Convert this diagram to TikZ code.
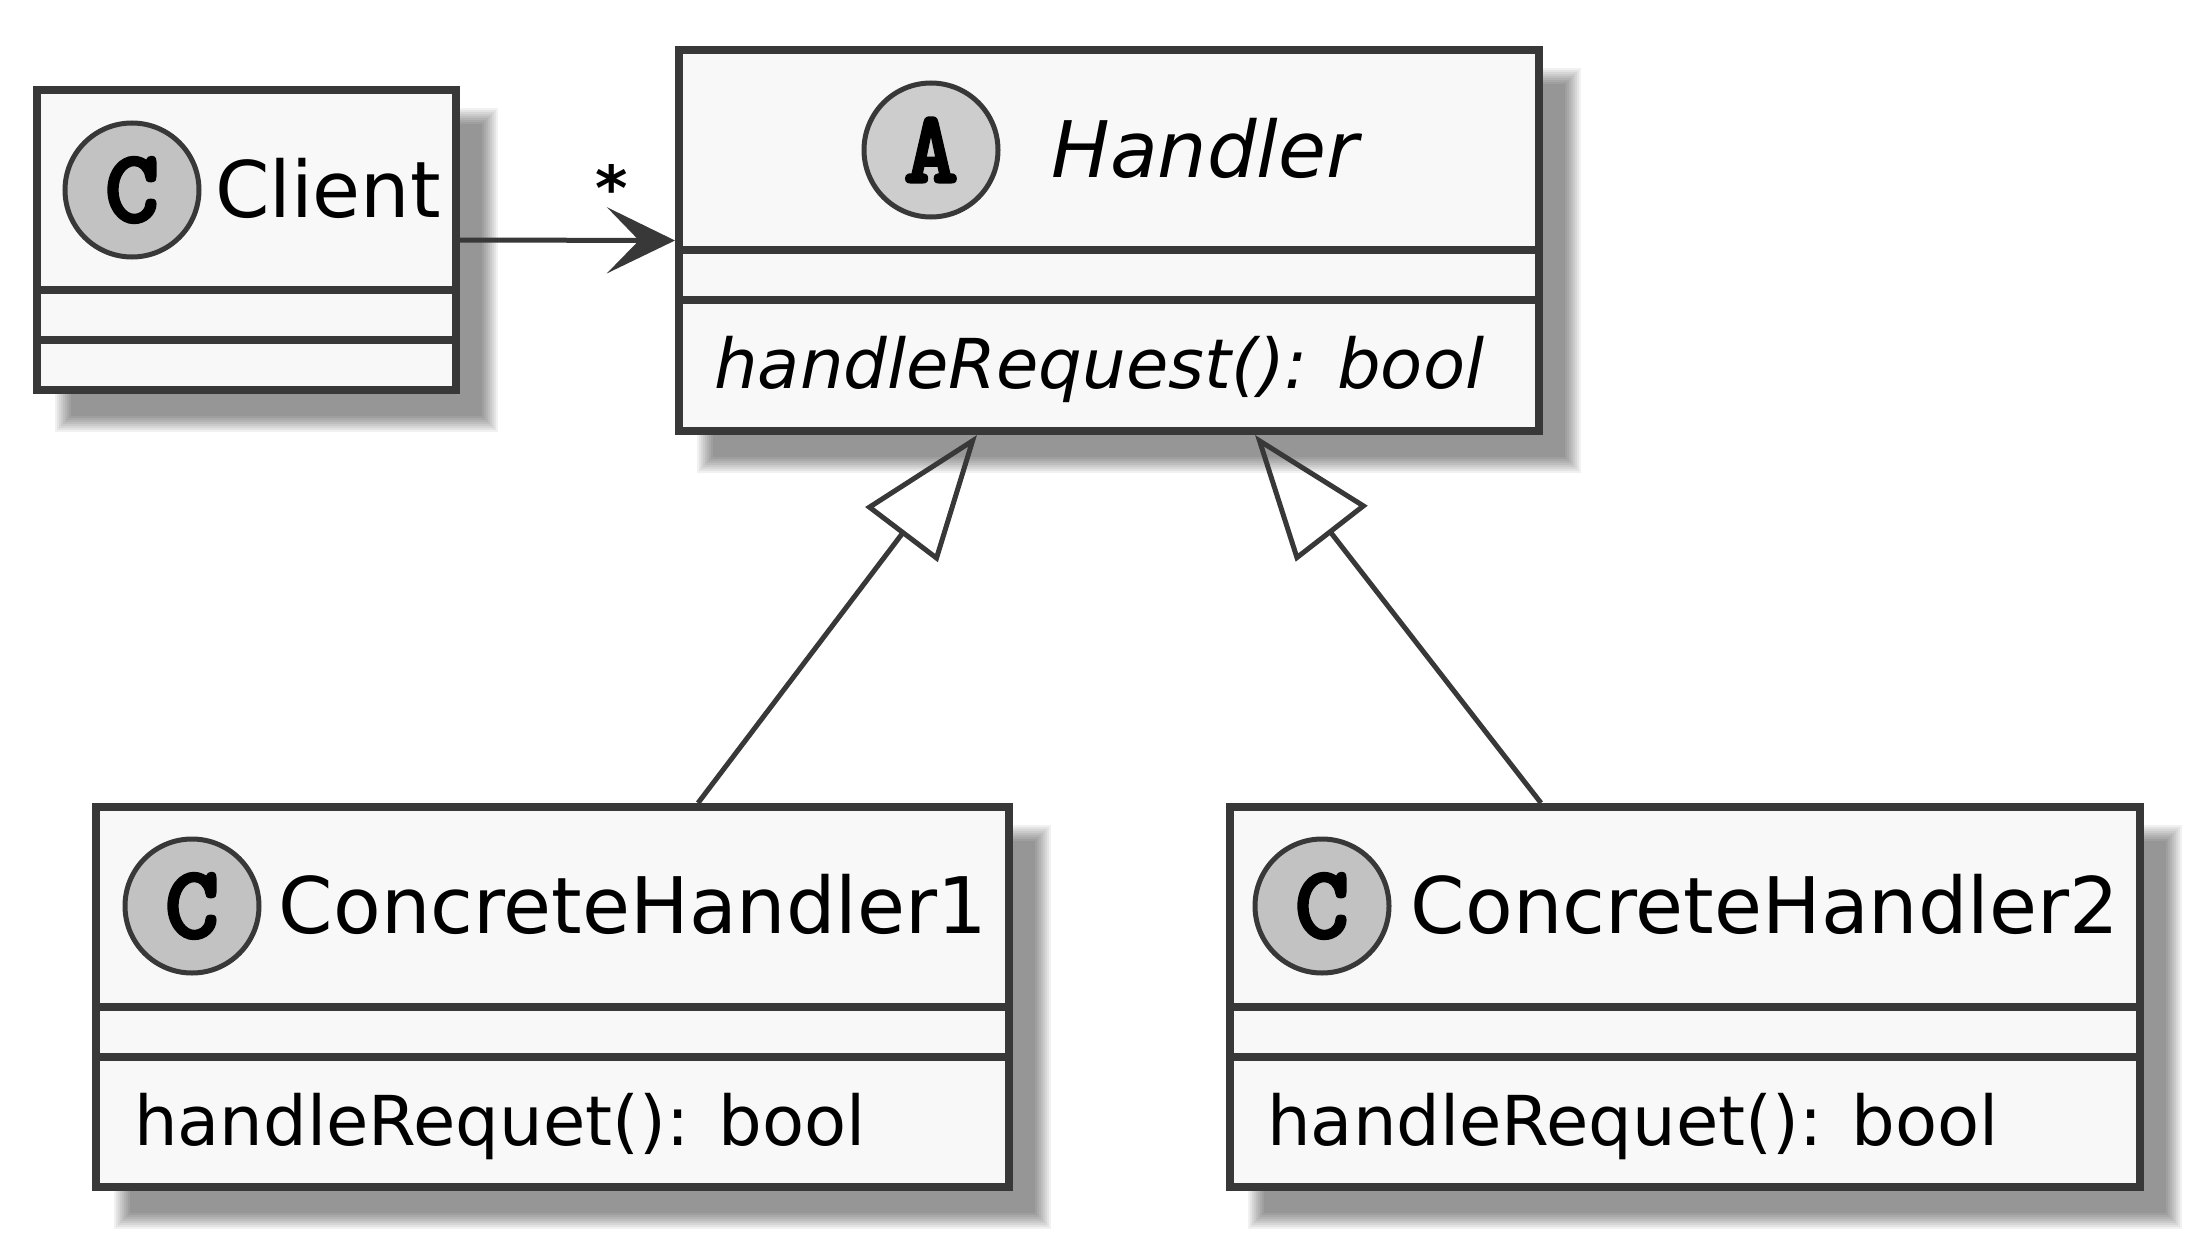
\documentclass[tikz,border=0pt]{standalone}
\usepackage{fontspec}
\setmainfont{DejaVu Sans}
\newfontfamily\spotfont{lmmonolt10-bold.otf}[FakeBold=2.5]
\usetikzlibrary{arrows.meta,backgrounds,calc}
\definecolor{bord}{HTML}{383838}
\definecolor{boxfill}{HTML}{F8F8F8}
\definecolor{spotc}{HTML}{C2C2C2}
\definecolor{spota}{HTML}{CDCDCD}
\tikzset{
  cls/.style={rectangle, draw=bord, fill=boxfill, line width=8pt, inner sep=0pt},
  sepline/.style={draw=bord, line width=8pt},
  spot/.style={circle, draw=bord, line width=5pt, inner sep=0pt, minimum size=134pt,
    font=\spotfont\fontsize{104}{104}\selectfont},
  clsname/.style={inner sep=0pt, anchor=base, font=\fontsize{78}{90}\selectfont},
  member/.style={inner sep=0pt, anchor=base west, font=\fontsize{68.8}{80}\selectfont},
  mult/.style={inner sep=0pt, anchor=base, font=\bfseries\fontsize{62}{70}\selectfont},
  assoc/.style={draw=bord, line width=5pt, -{Stealth[length=68pt, width=66pt, inset=32pt]}},
  gen/.style={draw=bord, line width=5pt, -{Triangle[open, length=125pt, width=90pt]}},
}
\begin{document}
\begin{tikzpicture}[x=1pt, y=-1pt]
\useasboundingbox (0,0) rectangle (2209,1255);

% class boxes
\node[cls, minimum width=419pt, minimum height=300pt] (client) at (246.5,240) {};
\node[cls, minimum width=860pt, minimum height=381pt] (handler) at (1109,240.5) {};
\node[cls, minimum width=913pt, minimum height=380pt] (ch1) at (552.5,997) {};
\node[cls, minimum width=910pt, minimum height=380pt] (ch2) at (1685,997) {};

% white page and shadows
\begin{pgfonlayer}{background}
\fill[white] (0,0) rectangle (2209,1255);
\foreach \n in {client,handler,ch1,ch2}{
  \foreach \e in {8,6,...,-8}{
    \fill[black, opacity=0.055]
      ([shift={({30-(\e)},{30-(\e)})}]\n.north west) rectangle
      ([shift={({30+(\e)},{30+(\e)})}]\n.south east);
  }
}
\end{pgfonlayer}

% compartment separators
\foreach \n in {client,handler,ch1,ch2}{
  \draw[sepline] ([yshift=-204pt]\n.north west) -- ([yshift=-204pt]\n.north east);
  \draw[sepline] ([yshift=-254pt]\n.north west) -- ([yshift=-254pt]\n.north east);
}

% spots
\node[spot, fill=spotc] (clientspot) at (132,190) {C};
\node[spot, fill=spota] (handlerspot) at (931,150) {A};
\node[spot, fill=spotc] (ch1spot) at (192,906) {C};
\node[spot, fill=spotc] (ch2spot) at (1322,906) {C};

% names
\node[clsname] (clientname) at (328,217) {Client};
\node[clsname] (handlername) at (1205,177) {\itshape Handler};
\node[clsname] (ch1name) at (633,933) {ConcreteHandler1};
\node[clsname] (ch2name) at (1765,933) {ConcreteHandler2};

% members
\node[member] (handlermethod) at (714,388) {\itshape handleRequest(): bool};
\node[member] (ch1method) at (134,1145) {handleRequet(): bool};
\node[member] (ch2method) at (1267,1145) {handleRequet(): bool};

% connectors
\draw[assoc] (client.east) -- (handler.west);
\node[mult] (star) at (612,210) {*};
\draw[gen] ([xshift=145.5pt]ch1.north) -- ([xshift=-132pt]handler.south);
\draw[gen] ([xshift=-144pt]ch2.north) -- ([xshift=146pt]handler.south);
\end{tikzpicture}
\end{document}
